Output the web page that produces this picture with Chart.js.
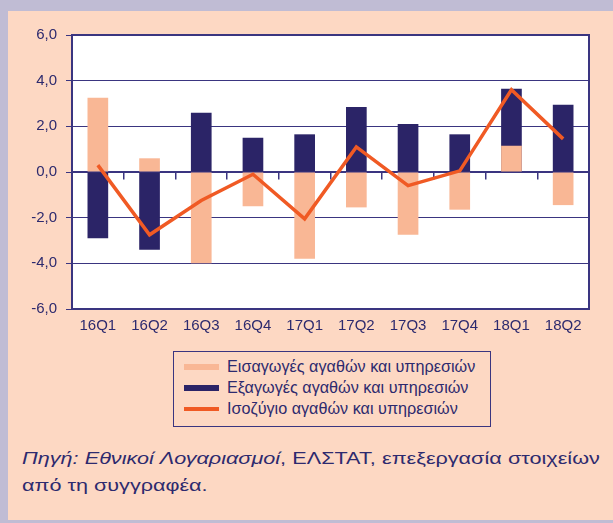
<!DOCTYPE html>
<html>
<head>
<meta charset="utf-8">
<script src="https://cdn.jsdelivr.net/npm/chart.js@4/dist/chart.umd.min.js"></script>
<style>
    body {
        margin: 0;
        width: 613px;
        height: 523px;
        background: #c0bcd4;
        position: relative;
        overflow: hidden;
        font-family: "Liberation Sans", Arial, Helvetica, sans-serif;
        color: #2d2a6e;
    }
    .panel {
        position: absolute;
        left: 8px;
        top: 11px;
        width: 605px;
        height: 509px;
        background: #fdd8c3;
    }
    #wrap {
        position: absolute;
        left: 0;
        top: 0;
        width: 613px;
        height: 345px;
    }
    .legend {
        position: absolute;
        left: 173px;
        top: 351px;
        width: 316px;
        height: 70px;
        border: 1px solid #3a3580;
        padding-top: 4px;
        box-sizing: content-box;
    }
    .legend .row {
        height: 21px;
        line-height: 21px;
        font-size: 16.2px;
        position: relative;
        padding-left: 53px;
        white-space: nowrap;
    }
    .legend .sw {
        position: absolute;
        left: 10px;
        width: 35px;
        top: 50%;
    }
    /* the source text is set wider than our fonts, so stretch it */
    .note {
        position: absolute;
        left: 22px;
        top: 445px;
        width: 428px;
        font-size: 16px;
        line-height: 27.4px;
        transform: scaleX(1.35);
        transform-origin: 0 0;
    }
    .note .l1 {
        display: block;
        white-space: nowrap;
        text-align: justify;
        text-align-last: justify;
    }
</style>
</head>
<body>
<div class="panel"></div>
<div id="wrap"><canvas id="chart"></canvas></div>
<div class="legend" id="legend"></div>
<div class="note"><span class="l1"><i>Πηγή: Εθνικοί Λογαριασμοί</i>, ΕΛΣΤΑΤ, επεξεργασία στοιχείων</span>από τη συγγραφέα.</div>

<script>
const categories = ['16Q1', '16Q2', '16Q3', '16Q4', '17Q1', '17Q2', '17Q3', '17Q4', '18Q1', '18Q2'];
const imports = [3.25, 0.6, -4.0, -1.5, -3.8, -1.55, -2.75, -1.65, 1.15, -1.45];
const exports = [-2.9, -3.4, 2.6, 1.5, 1.65, 2.85, 2.1, 1.65, 3.65, 2.95];
const balance = [0.3, -2.75, -1.25, -0.1, -2.05, 1.1, -0.6, 0.05, 3.6, 1.45];
const yTicks = [-6, -4, -2, 0, 2, 4, 6];

const navy = '#2b2467';
const peach = '#f9b795';
const orange = '#f05a24';
const axisColor = '#3a3580';
const font = { family: '"Liberation Sans", Arial, Helvetica, sans-serif', size: 15 };

// white plot area + frame round it
const frame = {
    id: 'frame',
    beforeDraw(chart) {
        const a = chart.chartArea;
        chart.ctx.save();
        chart.ctx.fillStyle = '#ffffff';
        chart.ctx.fillRect(a.left, a.top, a.right - a.left, a.bottom - a.top);
        chart.ctx.restore();
    },
    afterDraw(chart) {
        const a = chart.chartArea;
        const ctx = chart.ctx;
        ctx.save();
        ctx.strokeStyle = axisColor;
        ctx.lineWidth = 2;
        ctx.strokeRect(a.left, a.top, a.right - a.left, a.bottom - a.top);
        ctx.restore();
    }
};

// legend as html box, items from the chart
const htmlLegend = {
    id: 'htmlLegend',
    afterUpdate(chart) {
        const box = document.getElementById('legend');
        box.innerHTML = '';
        const items = Chart.defaults.plugins.legend.labels.generateLabels(chart)
            .sort((a, b) => a.datasetIndex - b.datasetIndex);
        items.forEach(item => {
            const ds = chart.data.datasets[item.datasetIndex];
            const row = document.createElement('div');
            row.className = 'row';
            const sw = document.createElement('span');
            sw.className = 'sw';
            const h = ds.type === 'line' ? 4 : 6;
            sw.style.height = h + 'px';
            sw.style.marginTop = (-h / 2) + 'px';
            sw.style.background = ds.type === 'line' ? ds.borderColor : ds.backgroundColor;
            row.appendChild(sw);
            row.appendChild(document.createTextNode(item.text));
            box.appendChild(row);
        });
    }
};

const data = {
    labels: categories,
    datasets: [{
        type: 'bar',
        label: 'Εισαγωγές αγαθών και υπηρεσιών',
        data: imports,
        backgroundColor: peach,
        grouped: false,
        barPercentage: 0.4,
        categoryPercentage: 1,
        xAxisID: 'x',
        order: 1
    }, {
        type: 'bar',
        label: 'Εξαγωγές αγαθών και υπηρεσιών',
        data: exports,
        backgroundColor: navy,
        grouped: false,
        barPercentage: 0.4,
        categoryPercentage: 1,
        xAxisID: 'x',
        order: 2
    }, {
        type: 'line',
        label: 'Ισοζύγιο αγαθών και υπηρεσιών',
        data: balance,
        borderColor: orange,
        backgroundColor: orange,
        borderWidth: 3.5,
        pointRadius: 0,
        tension: 0,
        xAxisID: 'x',
        order: 0
    }]
};

const config = {
    type: 'bar',
    data: data,
    plugins: [frame, htmlLegend],
    options: {
        responsive: true,
        maintainAspectRatio: false,
        animation: false,
        layout: {
            padding: { left: 0, top: 35, right: 24, bottom: 0 }
        },
        plugins: {
            legend: { display: false },
            tooltip: { enabled: false }
        },
        scales: {
            x: {
                position: 'bottom',
                offset: true,
                grid: { display: false, drawTicks: false },
                border: { display: false },
                ticks: { color: '#2d2a6e', font: font, padding: 8, maxRotation: 0 },
                afterFit(scale) { scale.height = 36; }
            },
            x2: {
                type: 'category',
                position: { y: 0 },
                offset: true,
                grid: {
                    offset: true,
                    drawOnChartArea: false,
                    tickLength: 7,
                    color: axisColor,
                    lineWidth: 1.5
                },
                border: { color: axisColor, width: 1.5 },
                ticks: { display: false }
            },
            y: {
                min: -6,
                max: 6,
                afterBuildTicks(scale) {
                    scale.ticks = yTicks.map(v => ({ value: v }));
                },
                grid: {
                    color: axisColor,
                    lineWidth: 1,
                    tickLength: 6
                },
                border: { color: axisColor, width: 2 },
                ticks: {
                    color: '#2d2a6e',
                    font: font,
                    padding: 9,
                    callback: v => v.toFixed(1).replace('.', ',')
                },
                afterFit(scale) { scale.width = 72; }
            }
        }
    }
};

let chart = new Chart(document.getElementById('chart'), config);
</script>
</body>
</html>
